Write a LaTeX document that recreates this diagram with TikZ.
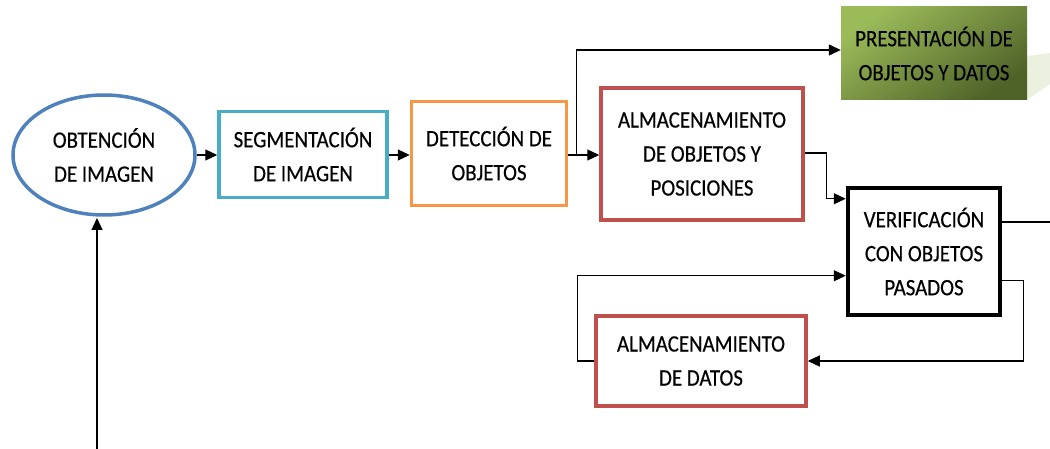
\documentclass[tikz,border=0pt]{standalone}
\usepackage{fontspec}
\setmainfont{Carlito}[FakeStretch=0.89,FakeBold=0.4]
\usetikzlibrary{shapes.geometric,arrows.meta}
\definecolor{cblue}{HTML}{4F81BD}
\definecolor{cteal}{HTML}{4BACC6}
\definecolor{corange}{HTML}{F79646}
\definecolor{cred}{HTML}{C0504D}
\definecolor{glight}{HTML}{9BBB59}
\definecolor{gdark}{HTML}{4F6228}
\definecolor{gshadow}{HTML}{EBF1DE}
\tikzset{
  lbl/.style={font=\fontsize{23.5}{34}\selectfont, align=center, text=black, inner sep=0pt},
  boxb/.style={lbl, draw, rectangle, line width=3.5pt},
  arr/.style={line width=1.2pt, -{Triangle[length=12pt,width=11pt]}},
  ln/.style={line width=1.2pt}
}
\begin{document}
\begin{tikzpicture}[x=1pt,y=-1pt]
\useasboundingbox (0,0) rectangle (1050,449);
% shadow of green box
\fill[gshadow] (1027,56) -- (1050,53) -- (1050,84) -- (1027,100) -- cycle;
\node[lbl, ellipse, draw=cblue, line width=3.5pt, minimum width=182pt, minimum height=120pt] (obt) at (104,155) {OBTENCIÓN\\DE IMAGEN};
\node[boxb, draw=cteal, minimum width=168pt, minimum height=86pt] (seg) at (303,154.5) {SEGMENTACIÓN\\DE IMAGEN};
\node[boxb, draw=corange, minimum width=155pt, minimum height=104pt] (det) at (489,153.5) {DETECCIÓN DE\\OBJETOS};
\node[boxb, draw=cred, minimum width=202pt, minimum height=132pt] (alm) at (702,154) {ALMACENAMIENTO\\DE OBJETOS Y\\POSICIONES};
\node[lbl, rectangle, top color=glight, bottom color=gdark, shading angle=35, minimum width=186pt, minimum height=93pt] (pres) at (934,53.5) {PRESENTACIÓN DE\\OBJETOS Y DATOS};
\node[boxb, draw=black, line width=4.5pt, minimum width=152pt, minimum height=127pt] (ver) at (924,251.5) {VERIFICACIÓN\\CON OBJETOS\\PASADOS};
\node[boxb, draw=cred, minimum width=210pt, minimum height=90pt] (dat) at (701,361) {ALMACENAMIENTO\\DE DATOS};
% connectors
\draw[arr] (obt.east) -- (obt.east -| seg.west);
\draw[arr] ([yshift=-0.5pt]seg.east) -- ([yshift=-0.5pt]seg.east -| det.west);
\draw[arr] ([yshift=-1.5pt]det.east) -- ([yshift=-1.5pt]det.east -| alm.west);
\coordinate (br) at ([xshift=8pt,yshift=-1.5pt]det.east);
\draw[arr] (br) |- ([yshift=3.5pt]pres.west);
\draw[arr] ([yshift=1pt]alm.east) -- ++(22,0) |- ([yshift=-13pt]ver.north west);
\coordinate (vout) at (1050,222);
\draw[ln] (ver.east |- vout) -- (vout);
\draw[arr] ([yshift=-95pt]ver.north east) -- ++(21,0) |- (dat.east);
\draw[arr] (dat.west) -- ++(-17,0) |- ([yshift=-90pt]ver.north west);
\coordinate (bot) at (97,449);
\draw[arr] (bot) -- (97,218);
\end{tikzpicture}
\end{document}
